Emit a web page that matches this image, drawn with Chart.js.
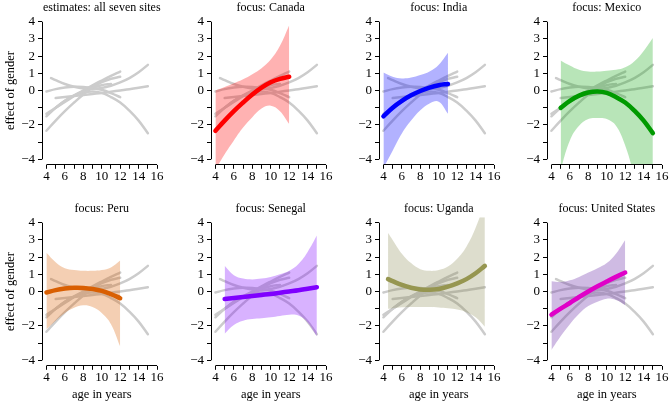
<!DOCTYPE html>
<html>
<head>
<meta charset="utf-8">
<script src="https://cdn.jsdelivr.net/npm/chart.js@4.4.0/dist/chart.umd.min.js"></script>
<style>
  body { margin: 0; background: #fff; }
  #wrap { position: relative; width: 670px; height: 402px; overflow: hidden; }
  #wrap canvas { position: absolute; }
</style>
</head>
<body>
<div id="wrap"></div>
<script>
// fitted gender effect by age, with 95% band
const sites = ['Canada', 'India', 'Mexico', 'Peru', 'Senegal', 'Uganda', 'United States'];

const canadaAge = [4, 5, 6, 7, 8, 9, 10, 11, 12];
const canadaFit = [-2.34, -1.75, -1.2, -0.7, -0.23, 0.17, 0.48, 0.68, 0.8];
const canadaLo  = [-4.6, -3.7, -2.9, -2.15, -1.55, -1.05, -0.88, -1.2, -1.95];
const canadaHi  = [0.0, 0.2, 0.42, 0.65, 0.95, 1.3, 1.8, 2.6, 3.8];

const indiaAge = [4, 5, 6, 7, 8, 9, 10, 11];
const indiaFit = [-1.5, -1.0, -0.6, -0.28, -0.03, 0.17, 0.31, 0.38];
const indiaLo  = [-4.5, -3.5, -2.5, -1.75, -1.15, -0.75, -0.65, -1.35];
const indiaHi  = [1.05, 0.8, 0.7, 0.75, 0.9, 1.1, 1.5, 2.2];

const mexicoAge = [5, 6, 7, 8, 9, 10, 11, 12, 13, 14, 15];
const mexicoFit = [-1.01, -0.6, -0.3, -0.12, -0.06, -0.14, -0.38, -0.7, -1.17, -1.75, -2.48];
const mexicoLo  = [-4.6, -2.9, -2.05, -1.66, -1.6, -1.66, -2.05, -3.2, -5.0, -7.0, -9.0];
const mexicoHi  = [1.75, 1.45, 1.2, 1.1, 1.1, 1.15, 1.2, 1.35, 1.7, 2.3, 3.05];

const peruAge = [4, 5, 6, 7, 8, 9, 10, 11, 12];
const peruFit = [-0.06, 0.08, 0.17, 0.22, 0.21, 0.15, 0.04, -0.15, -0.39];
const peruLo  = [-2.2, -1.7, -1.25, -0.95, -0.8, -0.9, -1.25, -1.9, -3.2];
const peruHi  = [2.25, 1.7, 1.35, 1.25, 1.2, 1.2, 1.25, 1.4, 1.8];

const senegalAge = [5, 6, 7, 8, 9, 10, 11, 12, 13, 14, 15];
const senegalFit = [-0.44, -0.38, -0.32, -0.26, -0.2, -0.14, -0.07, 0.0, 0.07, 0.16, 0.25];
const senegalLo  = [-2.45, -1.95, -1.7, -1.6, -1.55, -1.5, -1.42, -1.35, -1.4, -1.8, -2.6];
const senegalHi  = [1.5, 0.95, 0.75, 0.7, 0.75, 0.85, 1.0, 1.2, 1.6, 2.3, 3.25];

const ugandaAge = [4.5, 5, 6, 7, 8, 9, 10, 11, 12, 13, 14, 15];
const ugandaFit = [0.72, 0.6, 0.38, 0.22, 0.12, 0.1, 0.15, 0.28, 0.47, 0.72, 1.06, 1.49];
const ugandaLo  = [-1.0, -0.97, -0.92, -0.9, -0.9, -0.9, -0.93, -0.98, -1.05, -1.2, -1.5, -2.05];
const ugandaHi  = [3.4, 3.0, 2.2, 1.65, 1.3, 1.2, 1.25, 1.45, 1.9, 2.6, 3.7, 5.2];

const usAge = [4, 5, 6, 7, 8, 9, 10, 11, 12];
const usFit = [-1.35, -1.0, -0.67, -0.32, 0.0, 0.3, 0.58, 0.85, 1.1];
const usLo  = [-3.4, -2.6, -1.9, -1.3, -0.85, -0.6, -0.42, -0.5, -0.8];
const usHi  = [0.6, 0.55, 0.65, 0.85, 1.1, 1.35, 1.65, 2.2, 3.0];

const xTicks = [4, 5, 6, 7, 8, 9, 10, 11, 12, 13, 14, 15, 16];
const yTicks = [-4, -3, -2, -1, 0, 1, 2, 3, 4];

const lineColors = ['#ff0000', '#0000ff', '#009a00', '#d95f02', '#7f00ff', '#969650', '#e000c8'];
const bandColors = ['rgba(255,0,0,0.3)', 'rgba(0,0,255,0.3)', 'rgba(0,160,0,0.28)', 'rgba(217,95,2,0.3)',
                    'rgba(127,0,255,0.3)', 'rgba(130,130,70,0.27)', 'rgba(110,50,170,0.33)'];

const siteData = [
  [canadaAge, canadaFit, canadaLo, canadaHi],
  [indiaAge, indiaFit, indiaLo, indiaHi],
  [mexicoAge, mexicoFit, mexicoLo, mexicoHi],
  [peruAge, peruFit, peruLo, peruHi],
  [senegalAge, senegalFit, senegalLo, senegalHi],
  [ugandaAge, ugandaFit, ugandaLo, ugandaHi],
  [usAge, usFit, usLo, usHi]
];

const pts = (xs, ys) => xs.map((x, i) => ({x: x, y: ys[i]}));
const minus = v => v < 0 ? '\u2212' + (-v) : String(v);

// R-style detached axis lines, only across the tick range
const rAxes = {
  id: 'rAxes',
  afterDraw(chart) {
    const {ctx, scales: {x, y}} = chart;
    const ax = Math.floor(y.right) + 0.5;
    const ay = Math.floor(x.top) + 0.5;
    ctx.save();
    ctx.strokeStyle = '#000';
    ctx.lineWidth = 1;
    ctx.beginPath();
    ctx.moveTo(x.getPixelForValue(4), ay);
    ctx.lineTo(x.getPixelForValue(16), ay);
    ctx.moveTo(ax, y.getPixelForValue(-4));
    ctx.lineTo(ax, y.getPixelForValue(4));
    ctx.stroke();
    ctx.restore();
  }
};

const tickFont = {family: 'Liberation Serif', size: 13};
const font = {family: 'Liberation Serif', size: 12.5};
const colLeft = [0, 169, 337, 505];
const wrap = document.getElementById('wrap');

for (let p = 0; p < 8; p++) {
  const col = p % 4, row = Math.floor(p / 4);
  const cv = document.createElement('canvas');
  cv.width = 166; cv.height = 201;
  cv.style.left = colLeft[col] + 'px';
  cv.style.top = (row * 201) + 'px';
  wrap.appendChild(cv);

  const focus = p - 1; // -1 for the overview panel
  // index 0 is drawn last (on top): focus line, then band, then grey lines underneath
  const datasets = [];
  if (focus >= 0) {
    const [age, fit, lo, hi] = siteData[focus];
    datasets.push({data: pts(age, fit), borderColor: lineColors[focus], borderWidth: 4.5,
                   borderCapStyle: 'round', pointRadius: 0, tension: 0.4, fill: false});
    datasets.push({data: pts(age, hi), borderWidth: 0, pointRadius: 0, tension: 0.4,
                   backgroundColor: bandColors[focus], fill: '+1'});
    datasets.push({data: pts(age, lo), borderWidth: 0, pointRadius: 0, tension: 0.4, fill: false});
  }
  siteData.forEach(([age, fit]) => {
    datasets.push({data: pts(age, fit), borderColor: '#cccccc', borderWidth: 2.5,
                   borderCapStyle: 'round', pointRadius: 0, tension: 0.4, fill: false});
  });

  new Chart(cv, {
    type: 'line',
    data: {datasets: datasets},
    options: {
      responsive: false,
      animation: false,
      events: [],
      layout: {padding: {right: 4.5}},
      plugins: {
        legend: {display: false},
        tooltip: {enabled: false},
        title: {
          display: true,
          fullSize: false,
          text: p === 0 ? 'estimates: all seven sites' : 'focus: ' + sites[focus],
          color: '#000', font: {family: 'Liberation Serif', size: 12, weight: 'normal'},
          padding: {top: 1, bottom: 0.8}
        }
      },
      scales: {
        x: {
          type: 'linear', min: 3.52, max: 16.48,
          afterBuildTicks: s => { s.ticks = xTicks.map(v => ({value: v})); },
          afterFit: s => { s.height = 36.2; },
          ticks: {autoSkip: false, maxRotation: 0, padding: 0, color: '#000', font: tickFont,
                  callback: v => v % 2 === 0 ? String(v) : ''},
          grid: {drawOnChartArea: false, tickLength: 4, color: '#000'},
          border: {display: false},
          title: {display: row === 1, text: 'age in years', color: '#000', font: font,
                  padding: {top: 0, bottom: 0}}
        },
        y: {
          type: 'linear', min: -4.32, max: 4.32,
          afterBuildTicks: s => { s.ticks = yTicks.map(v => ({value: v})); },
          afterFit: s => { s.width = 42; },
          ticks: {autoSkip: false, padding: 3, color: '#000', font: tickFont,
                  callback: v => (v === -1 || v === -3) ? '' : minus(v)},
          grid: {drawOnChartArea: false, tickLength: 4, color: '#000'},
          border: {display: false},
          title: {display: col === 0, text: 'effect of gender', color: '#000', font: font,
                  padding: {top: 3, bottom: 0}}
        }
      }
    },
    plugins: [rAxes]
  });
}
</script>
</body>
</html>
